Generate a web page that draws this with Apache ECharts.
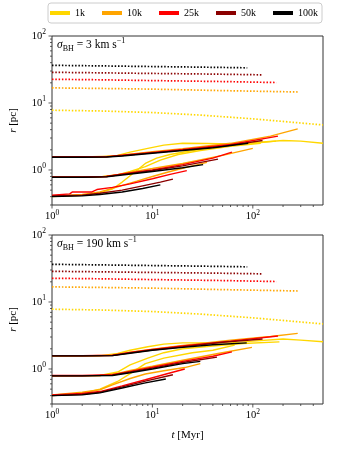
<!DOCTYPE html>
<html>
<head>
<meta charset="utf-8">
<title>r vs t</title>
<script src="https://cdn.jsdelivr.net/npm/echarts@6/dist/echarts.min.js"></script>
</head>
<body style="margin:0;padding:0">
<div id="main" style="width:340px;height:450px;"></div>
<script type="text/javascript">
var myChart = echarts.init(document.getElementById('main'));

var sizes = ['1k', '10k', '25k', '50k', '100k'];
var colorList = ['#FFD700', '#FFA500', '#FF0000', '#8B0000', '#000000'];
var sigmaList = ['3', '190'];

// dotted curves (t [Myr], r [pc]), same in both panels
var dot1k = [[1, 7.8], [3, 7.6], [10, 7.2], [30, 6.6], [100, 5.8], [200, 5.3], [500, 4.7]];
var dot10k = [[1, 16.8], [3, 16.5], [10, 16.1], [50, 15.3], [280, 14.6]];
var dot25k = [[1, 22.6], [3, 22.2], [10, 21.6], [50, 20.9], [172, 20.2]];
var dot50k = [[1, 28.7], [3, 28.2], [10, 27.6], [40, 27.0], [123, 26.3]];
var dot100k = [[1, 36.5], [3, 35.8], [10, 35.0], [30, 34.3], [88, 33.5]];
var dotted = [dot1k, dot10k, dot25k, dot50k, dot100k];

// solid curves, top panel (sigma = 3): one per starting radius
var top1k = [
  [[1, 1.55], [3, 1.56], [4.5, 1.65], [6, 1.85], [9, 2.1], [13, 2.35], [20, 2.5], [35, 2.48], [60, 2.45], [100, 2.55], [200, 2.75], [300, 2.7], [500, 2.5]],
  [[1, 0.78], [3, 0.79], [4.5, 0.84], [6, 0.95], [8.5, 1.12], [12, 1.4], [18, 1.7], [30, 1.95], [60, 2.25], [120, 2.5]],
  [[1, 0.4], [2, 0.42], [3, 0.46], [4, 0.52], [5, 0.66], [6.5, 0.9], [8.5, 1.25], [11, 1.5], [15, 1.7], [25, 1.95], [50, 2.25], [100, 2.5], [170, 2.7]]
];
var top10k = [
  [[1, 1.56], [2, 1.56], [4, 1.6], [6, 1.72], [10, 1.88], [20, 2.08], [60, 2.5], [150, 3.2], [280, 4.1]],
  [[1, 0.78], [3, 0.79], [4.5, 0.85], [6, 0.93], [10, 1.05], [20, 1.25], [50, 1.65], [100, 2.1]],
  [[1, 0.41], [2, 0.43], [3, 0.47], [4.5, 0.56], [7, 0.68], [10, 0.8], [15, 0.95], [25, 1.15], [35, 1.3]]
];
var top25k = [
  [[1, 1.57], [2, 1.58], [3.5, 1.58], [5, 1.66], [10, 1.83], [20, 2.02], [60, 2.4], [178, 3.2]],
  [[1, 0.79], [2, 0.79], [3.5, 0.8], [5, 0.87], [10, 1.0], [20, 1.2], [40, 1.5], [62, 1.85]],
  [[1, 0.42], [1.5, 0.44], [1.6, 0.47], [2.5, 0.47], [2.8, 0.51], [4, 0.55], [6, 0.62], [10, 0.74], [15, 0.86], [22, 0.98]]
];
var top50k = [
  [[1, 1.56], [2, 1.56], [3.5, 1.57], [5, 1.64], [10, 1.8], [20, 1.98], [50, 2.25], [125, 2.75]],
  [[1, 0.78], [2, 0.78], [3.5, 0.8], [5, 0.86], [10, 0.98], [20, 1.15], [45, 1.45]],
  [[1, 0.41], [2, 0.42], [3, 0.45], [5, 0.5], [8, 0.58], [12, 0.66], [16, 0.73]]
];
var top100k = [
  [[1, 1.55], [2, 1.55], [3.5, 1.56], [5, 1.62], [10, 1.78], [20, 1.95], [40, 2.15], [90, 2.5]],
  [[1, 0.78], [2, 0.78], [3.5, 0.79], [5, 0.84], [10, 0.95], [20, 1.08], [32, 1.2]],
  [[1, 0.4], [2, 0.41], [3, 0.43], [5, 0.47], [8, 0.53], [12, 0.6]]
];

// solid curves, bottom panel (sigma = 190)
var bot1k = [
  [[1, 1.56], [3, 1.57], [4.5, 1.7], [6, 1.9], [9, 2.15], [13, 2.35], [20, 2.45], [35, 2.45], [60, 2.45], [100, 2.6], [200, 2.8], [300, 2.7], [500, 2.55]],
  [[1, 0.79], [3, 0.8], [4.5, 0.9], [6, 1.15], [9, 1.45], [13, 1.75], [20, 2.0], [40, 2.2], [80, 2.4], [184, 2.54]],
  [[1, 0.4], [2, 0.43], [3, 0.5], [4.5, 0.65], [6, 0.85], [8.5, 1.2], [13, 1.45], [25, 1.75], [40, 1.9], [66, 2.27]]
];
var bot10k = [
  [[1, 1.57], [2, 1.57], [4, 1.6], [6, 1.78], [10, 1.98], [20, 2.25], [60, 2.7], [150, 3.05], [280, 3.4]],
  [[1, 0.79], [3, 0.8], [4.5, 0.86], [6, 0.95], [10, 1.1], [20, 1.35], [45, 1.7], [98, 2.1]],
  [[1, 0.41], [2, 0.45], [3, 0.49], [4, 0.58], [6, 0.72], [8.5, 0.84], [13, 0.94], [21, 1.05], [30, 1.2]]
];
var bot25k = [
  [[1, 1.58], [2, 1.58], [4, 1.6], [6, 1.76], [10, 1.95], [20, 2.2], [60, 2.6], [178, 3.1]],
  [[1, 0.8], [2, 0.8], [4, 0.82], [6, 0.92], [10, 1.06], [20, 1.3], [40, 1.55], [62, 1.8]],
  [[1, 0.41], [2, 0.43], [3, 0.46], [5, 0.56], [8.5, 0.69], [14, 0.85], [21, 1.0]]
];
var bot50k = [
  [[1, 1.57], [2, 1.57], [4, 1.59], [6, 1.74], [10, 1.92], [20, 2.15], [50, 2.5], [125, 2.8]],
  [[1, 0.79], [2, 0.79], [4, 0.81], [6, 0.9], [10, 1.03], [20, 1.25], [44, 1.5]],
  [[1, 0.4], [2, 0.42], [3, 0.45], [5, 0.54], [8.5, 0.66], [16, 0.82]]
];
var bot100k = [
  [[1, 1.57], [2, 1.57], [4, 1.58], [6, 1.72], [10, 1.9], [20, 2.1], [40, 2.3], [87, 2.45]],
  [[1, 0.79], [2, 0.79], [4, 0.8], [6, 0.88], [10, 1.0], [20, 1.2], [30, 1.3]],
  [[1, 0.4], [2, 0.41], [3, 0.44], [5, 0.52], [8.5, 0.62], [13.6, 0.71]]
];
var solids = [
  [top1k, top10k, top25k, top50k, top100k],
  [bot1k, bot10k, bot25k, bot50k, bot100k]
];

// axis ranges and ticks
var xMin = 1, xMax = 500, yMin = 0.3, yMax = 100;
var xMajor = [1, 10, 100];
var xMinor = [2, 3, 4, 5, 6, 7, 8, 9, 20, 30, 40, 50, 60, 70, 80, 90, 200, 300, 400];
var yMajor = [1, 10, 100];
var yMinor = [0.3, 0.4, 0.5, 0.6, 0.7, 0.8, 0.9, 2, 3, 4, 5, 6, 7, 8, 9, 20, 30, 40, 50, 60, 70, 80, 90];

var font = 'Liberation Serif';
var frameColor = '#333';

function powLabel(v) {
  var e = Math.log10(v);
  if (Math.abs(e - Math.round(e)) > 1e-6) return '';
  return '{b|10}{s|' + Math.round(e) + '}';
}
var powRich = {
  b: { fontFamily: font, fontSize: 10.5, lineHeight: 15, color: '#000' },
  s: { fontFamily: font, fontSize: 7.5, verticalAlign: 'top', color: '#000' }
};

function tickSeries(p) {
  var data = [];
  xMajor.forEach(function (v) { data.push([v, yMin, 0, 3.5]); });
  xMinor.forEach(function (v) { data.push([v, yMin, 0, 2]); });
  yMajor.forEach(function (v) { data.push([xMin, v, 1, 3.5]); });
  yMinor.forEach(function (v) { data.push([xMin, v, 1, 2]); });
  return {
    type: 'custom', xAxisIndex: p, yAxisIndex: p, silent: true, clip: false, z: 10,
    data: data,
    renderItem: function (params, api) {
      var pt = api.coord([api.value(0), api.value(1)]);
      var len = api.value(3);
      var shape = api.value(2) === 1
        ? { x1: pt[0] - len, y1: pt[1], x2: pt[0], y2: pt[1] }
        : { x1: pt[0], y1: pt[1], x2: pt[0], y2: pt[1] + len };
      return { type: 'line', shape: shape, style: { stroke: frameColor, lineWidth: 0.8 } };
    }
  };
}

var series = [];
for (var p = 0; p < 2; p++) {
  for (var i = 0; i < sizes.length; i++) {
    solids[p][i].forEach(function (d) {
      series.push({
        type: 'line', name: sizes[i], xAxisIndex: p, yAxisIndex: p,
        data: d, symbol: 'none', silent: true, z: 2 + i,
        lineStyle: { color: colorList[i], width: 1.4 },
        itemStyle: { color: colorList[i] }
      });
    });
    series.push({
      type: 'line', name: sizes[i], xAxisIndex: p, yAxisIndex: p,
      data: dotted[i], symbol: 'none', silent: true, z: 2,
      lineStyle: { color: colorList[i], width: 1.7, type: [1.5, 1.8] },
      itemStyle: { color: colorList[i] }
    });
  }
  series.push(tickSeries(p));
}

var grids = [
  { left: 50, top: 36, width: 273, height: 169 },
  { left: 50, top: 235, width: 273, height: 169 }
];

var textBase = { fontFamily: font, fontWeight: 'normal', color: '#000' };

option = {
  animation: false,
  legend: {
    data: sizes.map(function (s, k) { return { name: s, itemStyle: { color: colorList[k] } }; }),
    left: 48, top: 3, icon: 'rect', itemWidth: 20, itemHeight: 4, itemGap: 17,
    padding: [5, 4, 5, 2], borderColor: '#ccc', borderWidth: 1, borderRadius: 3,
    selectedMode: false,
    textStyle: { fontFamily: font, fontSize: 10, color: '#000' }
  },
  title: sigmaList.map(function (s, k) {
    return {
      text: '{m|σ}{sub|BH}{n| = ' + s + ' km s}{sup|−1}',
      left: 57, top: k === 0 ? 37 : 236, padding: 0,
      textStyle: {
        fontWeight: 'normal',
        rich: {
          m: Object.assign({ fontStyle: 'italic', fontSize: 11.5, lineHeight: 16 }, textBase),
          n: Object.assign({ fontSize: 11.5, lineHeight: 16 }, textBase),
          sub: Object.assign({ fontSize: 8, verticalAlign: 'bottom' }, textBase),
          sup: Object.assign({ fontSize: 8, verticalAlign: 'top' }, textBase)
        }
      }
    };
  }),
  grid: grids.map(function (g) {
    return { left: g.left, top: g.top, width: g.width, height: g.height, show: true, borderColor: frameColor, borderWidth: 1, backgroundColor: 'transparent' };
  }),
  xAxis: [0, 1].map(function (k) {
    return {
      type: 'log', logBase: 10, gridIndex: k, min: xMin, max: xMax,
      axisLine: { show: false }, axisTick: { show: false }, splitLine: { show: false },
      axisLabel: { formatter: powLabel, rich: powRich, margin: 4 },
      name: k === 1 ? '{i|t} [Myr]' : '', nameLocation: 'middle', nameGap: 26,
      nameTextStyle: { fontFamily: font, fontSize: 11, color: '#000', rich: { i: Object.assign({ fontStyle: 'italic', fontSize: 11 }, textBase) } }
    };
  }),
  yAxis: [0, 1].map(function (k) {
    return {
      type: 'log', logBase: 10, gridIndex: k, min: yMin, max: yMax,
      axisLine: { show: false }, axisTick: { show: false }, splitLine: { show: false },
      axisLabel: { formatter: powLabel, rich: powRich, margin: 6 },
      name: '{i|r} [pc]', nameLocation: 'middle', nameGap: 33, nameRotate: 90,
      nameTextStyle: { fontFamily: font, fontSize: 11, color: '#000', rich: { i: Object.assign({ fontStyle: 'italic', fontSize: 11 }, textBase) } }
    };
  }),
  series: series
};

myChart.setOption(option);
</script>
</body>
</html>
